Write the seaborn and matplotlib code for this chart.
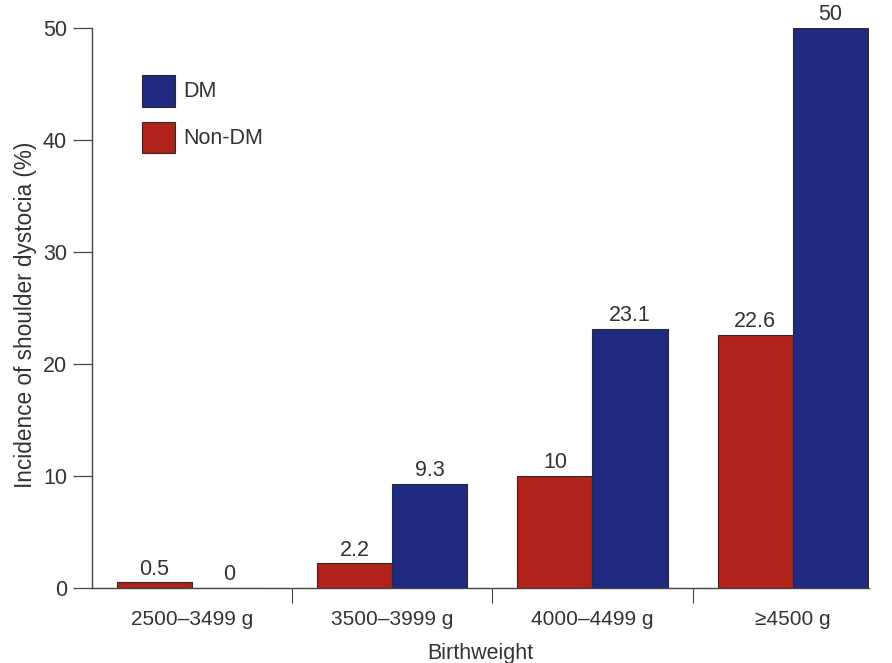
import matplotlib.pyplot as plt
import pandas as pd
import seaborn as sns

# values
birthweight = ["2500\u20133499 g", "3500\u20133999 g", "4000\u20134499 g", "\u22654500 g"]
non_dm = [0.5, 2.2, 10, 22.6]
dm = [0, 9.3, 23.1, 50]

df = pd.DataFrame({
    "Birthweight": birthweight * 2,
    "value": non_dm + dm,
    "group": ["Non-DM"] * len(non_dm) + ["DM"] * len(dm),
})

sns.set_style("white")
plt.rcParams["font.family"] = ["Liberation Sans", "DejaVu Sans"]

fig = plt.figure(figsize=(8.92, 6.63), dpi=100)
ax = fig.add_axes([0.103, 0.113, 0.871, 0.845])

sns.barplot(
    df,
    x="Birthweight",
    y="value",
    hue="group",
    hue_order=["Non-DM", "DM"],
    palette={"Non-DM": "#b0221a", "DM": "#1f2a80"},
    saturation=1,
    width=0.75,
    edgecolor="#2a2a2a",
    linewidth=0.8,
    ax=ax,
)

for cont in ax.containers:
    ax.bar_label(cont, fmt="%g", padding=2, fontsize=15.5, color="#333333")

ax.set_ylim(0, 50)
ax.set_xlim(-0.5, 3.38)
ax.set_yticks([0, 10, 20, 30, 40, 50])
ax.set_xticks([0.5, 1.5, 2.5], minor=True)
ax.tick_params(axis="y", which="major", left=True, length=14, width=0.9,
               color="#444444", labelsize=15.5, labelcolor="#333333", pad=4)
ax.tick_params(axis="x", which="major", bottom=False, length=0, labelsize=15,
               labelcolor="#333333", pad=16)
ax.tick_params(axis="x", which="minor", bottom=True, length=11, width=0.8,
               color="#444444")

ax.set_xlabel("Birthweight", fontsize=15.5, color="#333333", labelpad=10)
ax.set_ylabel("Incidence of shoulder dystocia (%)", fontsize=16.3,
              color="#333333")
ax.yaxis.set_label_coords(-0.071, 0.487)

sns.despine(ax=ax)
for side in ["left", "bottom"]:
    ax.spines[side].set_color("#444444")
    ax.spines[side].set_linewidth(1.0)

# legend: DM first, then Non-DM
handles, labels = ax.get_legend_handles_labels()
order = [labels.index("DM"), labels.index("Non-DM")]
ax.legend(
    [handles[i] for i in order],
    [labels[i] for i in order],
    loc="upper left",
    bbox_to_anchor=(0.040, 0.951),
    frameon=False,
    fontsize=15.5,
    handlelength=1.5,
    handleheight=1.9,
    handletextpad=0.4,
    labelspacing=0.7,
    labelcolor="#333333",
)

plt.savefig("out.png", dpi=100)
